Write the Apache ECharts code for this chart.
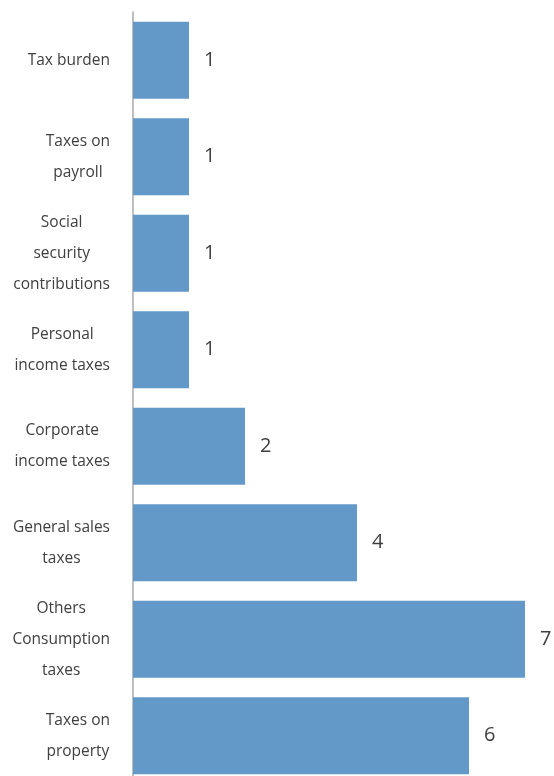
<!DOCTYPE html>
<html>
<head>
<meta charset="utf-8">
<script src="https://cdn.jsdelivr.net/npm/echarts@6/dist/echarts.min.js"></script>
<style>
  html, body { margin: 0; padding: 0; background: #fff; overflow: hidden; }
  #chart { width: 554px; height: 784px; }
</style>
</head>
<body>
<div id="chart"></div>
<script>
const categories = [
  'Tax burden',
  'Taxes on\npayroll',
  'Social\nsecurity\ncontributions',
  'Personal\nincome taxes',
  'Corporate\nincome taxes',
  'General sales\ntaxes',
  'Others\nConsumption\ntaxes',
  'Taxes on\nproperty'
]
const values = [1, 1, 1, 1, 2, 4, 7, 6]

const chart = echarts.init(document.getElementById('chart'))

chart.setOption({
  animation: false,
  grid: {
    left: 133,
    right: 29,
    top: 12,
    bottom: 0,
    containLabel: false
  },
  xAxis: {
    type: 'value',
    min: 0,
    max: 7,
    show: false
  },
  yAxis: {
    type: 'category',
    data: categories,
    inverse: true,
    axisLine: {
      lineStyle: { color: '#aaaaaa', width: 1.5 }
    },
    axisTick: { show: false },
    axisLabel: {
      align: 'right',
      margin: 23,
      // lines centred inside a right-aligned block
      formatter: v => v.split('\n').map(s => '{c|' + s + '}').join('\n'),
      rich: {
        c: {
          align: 'center',
          color: '#404040',
          fontFamily: 'Open Sans',
          fontSize: 15.5,
          lineHeight: 31
        }
      }
    }
  },
  series: [{
    type: 'bar',
    data: values,
    barCategoryGap: '20%',
    itemStyle: { color: '#6399c8' },
    label: {
      show: true,
      position: 'right',
      distance: 15,
      color: '#404040',
      fontFamily: 'Open Sans',
      fontSize: 20
    }
  }]
})
</script>
</body>
</html>
